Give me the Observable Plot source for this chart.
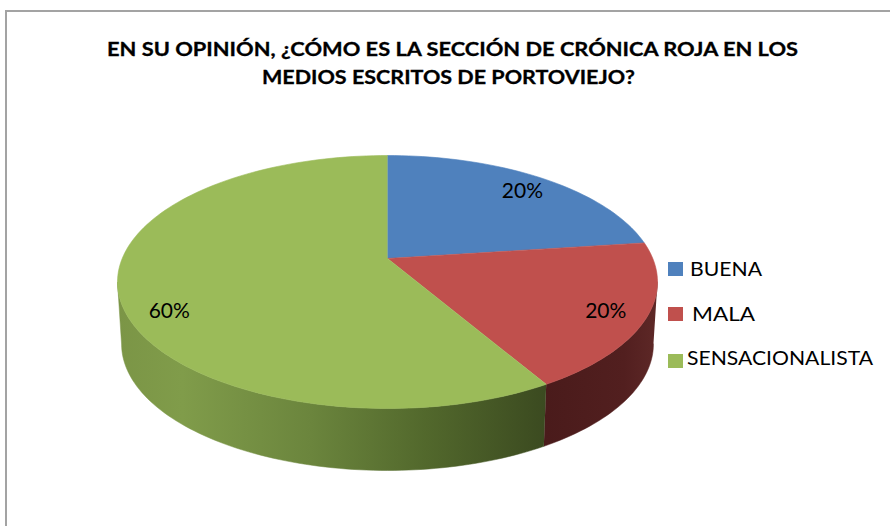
<!DOCTYPE html>
<html><head><meta charset="utf-8">
<script src="https://cdn.jsdelivr.net/npm/d3@7"></script>
<script src="https://cdn.jsdelivr.net/npm/@observablehq/plot@0.6"></script>
<style>
body{margin:0;background:#fff;}
#chart{position:relative;width:890px;height:526px;overflow:hidden;}
#chart svg{position:absolute;left:0;top:0;}
#frame{position:absolute;left:5px;top:10px;width:900px;height:600px;border-left:2px solid #a3a3a3;border-top:2px solid #a3a3a3;pointer-events:none;}
</style></head><body><div id="chart"></div>
<script>
// ---- data ----
const categories = ["BUENA", "MALA", "SENSACIONALISTA"];
const values = [20, 20, 60];
const valueLabels = ["20%", "20%", "60%"];
const titleLines = ["EN SU OPINIÓN, ¿CÓMO ES LA SECCIÓN DE CRÓNICA ROJA EN LOS", "MEDIOS ESCRITOS DE PORTOVIEJO?"];

// ---- geometry in unit ellipse space ----
const topColors = ["#4F81BD", "#C0504D", "#9BBB59"];
const apexY = 0.186;     // where slices meet (perspective offset)
const depth = 0.49;      // wall thickness
const bottomScale = 0.985;
const total = d3.sum(values);
let acc = 0;
const slices = categories.map((c, i) => {
  const a0 = acc / total * 2 * Math.PI; acc += values[i];
  const a1 = acc / total * 2 * Math.PI;
  return {c, i, a0, a1, label: valueLabels[i]};
});
function arc(a0, a1, f) {
  const n = Math.max(2, Math.ceil((a1 - a0) / (2 * Math.PI) * 240));
  return d3.range(n + 1).map(k => f(a0 + (a1 - a0) * k / n));
}
const topPts = [];
for (const s of slices) {
  topPts.push({c: s.c, x: 0, y: apexY});
  for (const p of arc(s.a0, s.a1, t => ({x: Math.sin(t), y: Math.cos(t)}))) topPts.push({c: s.c, ...p});
}
const walls = [];
for (const s of slices) {
  const lo = Math.max(s.a0, Math.PI / 2), hi = Math.min(s.a1, 3 * Math.PI / 2);
  if (hi <= lo) continue;
  const pts = [
    ...arc(lo, hi, t => ({x: Math.sin(t), y: Math.cos(t)})),
    ...arc(lo, hi, t => ({x: Math.sin(t) * bottomScale, y: Math.cos(t) - depth})).reverse()
  ].map(p => ({c: s.c, ...p}));
  walls.push({s, pts});
}
const labelPts = slices.map(s => {
  const m = (s.a0 + s.a1) / 2, f = 0.85;
  return {c: s.c, label: s.label, x: f * Math.sin(m), y: apexY + f * (Math.cos(m) - apexY)};
});

const chart = Plot.plot({
  width: 890, height: 526, margin: 0,
  x: {domain: [-1, 1], range: [117, 657], axis: null},
  y: {domain: [-1, 1], range: [408, 155], axis: null},
  color: {domain: categories, range: topColors},
  style: {background: "transparent"},
  marks: [
    ...walls.map(w => Plot.line(w.pts, {x: "x", y: "y", fill: `url(#wall${w.s.i})`, stroke: `url(#wall${w.s.i})`, strokeWidth: 0.5})),
    Plot.line(topPts, {x: "x", y: "y", z: "c", fill: "c", stroke: "c", strokeWidth: 0.6}),
    Plot.text(labelPts, {x: "x", y: "y", text: "label", fontSize: 21, fontFamily: "Lato, 'Open Sans', sans-serif", fill: "black", textAnchor: "middle", lineAnchor: "middle"})
  ]
});

const svg = d3.select(chart);
const xs = chart.scale("x");
const defs = svg.insert("defs", ":first-child");
const gradStops = {
  2: [[0, "#7b9546"], [0.15, "#809c4a"], [0.45, "#6b853d"], [0.72, "#52682c"], [1, "#3b4a20"]],
  1: [[0, "#4a1b1b"], [0.7, "#521f1f"], [1, "#5e2827"]],
  0: [[0, "#263f5e"], [1, "#2f4d72"]]
};
for (const w of walls) {
  const i = w.s.i;
  const lo = Math.max(w.s.a0, Math.PI / 2), hi = Math.min(w.s.a1, 3 * Math.PI / 2);
  const xa = xs.apply(Math.sin(lo)), xb = xs.apply(Math.sin(hi));
  const g = defs.append("linearGradient").attr("id", `wall${i}`)
    .attr("gradientUnits", "userSpaceOnUse")
    .attr("x1", Math.min(xa, xb)).attr("x2", Math.max(xa, xb)).attr("y1", 0).attr("y2", 0);
  for (const [o, c] of gradStops[i]) g.append("stop").attr("offset", o).attr("stop-color", c);
}

// title
const tg = svg.append("g").attr("font-family", "Lato, 'Open Sans', sans-serif").attr("font-weight", "bold").attr("font-size", 19).attr("fill", "#000").attr("text-anchor", "start");
const titleGeom = [{x: 107, y: 56, w: 691}, {x: 262, y: 83.5, w: 373}];
titleLines.forEach((t, k) => {
  tg.append("text").attr("x", titleGeom[k].x).attr("y", titleGeom[k].y).attr("text-anchor", "start")
    .attr("stroke", "#000").attr("stroke-width", 0.3)
    .attr("textLength", titleGeom[k].w).attr("lengthAdjust", "spacingAndGlyphs").text(t);
});

// legend
const lg = svg.append("g").attr("font-family", "Lato, 'Open Sans', sans-serif").attr("font-size", 20).attr("fill", "#000").attr("text-anchor", "start");
const legGeom = [
  {sy: 262, ty: 276, tx: 690, w: 72},
  {sy: 307, ty: 321, tx: 692, w: 63},
  {sy: 354, ty: 365, tx: 687, w: 186}
];
categories.forEach((c, k) => {
  const g = legGeom[k];
  lg.append("rect").attr("x", 668).attr("y", g.sy).attr("width", 15).attr("height", 14).attr("fill", chart.scale("color").apply(c));
  lg.append("text").attr("x", g.tx).attr("y", g.ty).attr("text-anchor", "start").attr("textLength", g.w).attr("lengthAdjust", "spacingAndGlyphs").text(c);
});

const host = document.getElementById("chart");
host.appendChild(chart);
const frame = document.createElement("div");
frame.id = "frame";
host.appendChild(frame);
</script>
</body></html>
